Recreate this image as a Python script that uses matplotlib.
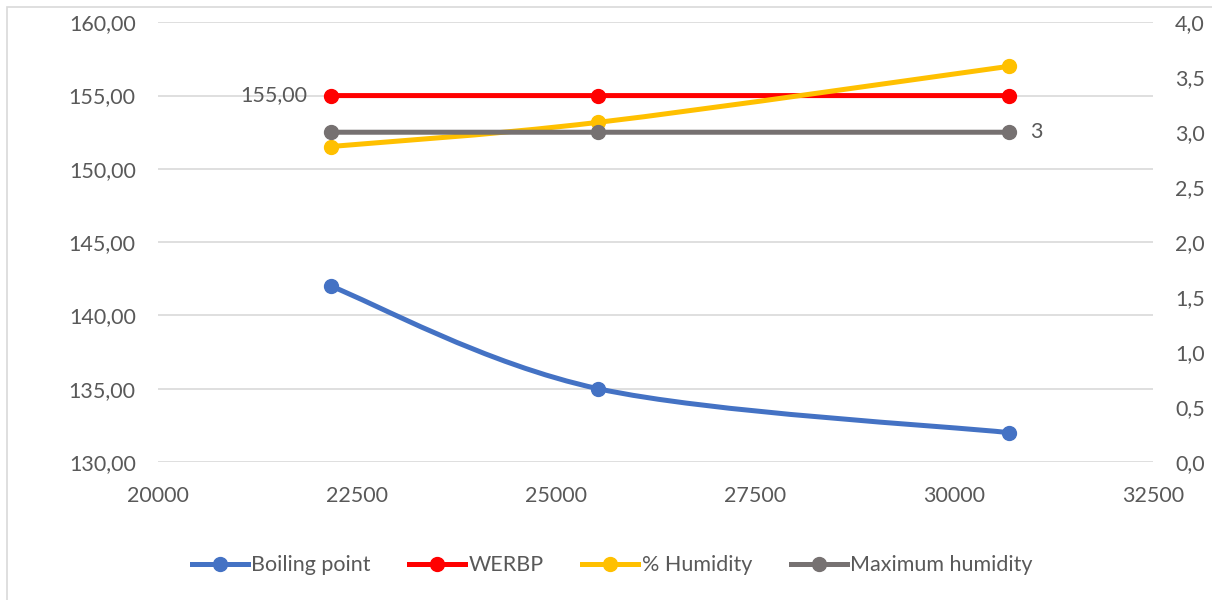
import matplotlib
matplotlib.use("Agg")
import matplotlib.pyplot as plt
from matplotlib.lines import Line2D
from matplotlib.patches import PathPatch, Rectangle
from matplotlib.path import Path

# series data
pressure = [22170, 25530, 30695]
boiling_point = [142.0, 135.0, 132.0]
werbp = [155.0, 155.0, 155.0]
humidity = [2.87, 3.09, 3.60]
max_humidity = [3.0, 3.0, 3.0]

left_ticks = [130, 135, 140, 145, 150, 155, 160]
right_ticks = [0.0, 0.5, 1.0, 1.5, 2.0, 2.5, 3.0, 3.5, 4.0]
x_ticks = [20000, 22500, 25000, 27500, 30000, 32500]

BLUE, RED, YELLOW, GREY = "#4472c4", "#ff0000", "#ffc000", "#767171"
TXT, GRID = "#595959", "#d9d9d9"
LW, MS = 3.6, 10
FS = 15.5

plt.rcParams["font.family"] = ["Lato", "DejaVu Sans"]


def smooth_path(xs, ys):
    """Catmull-Rom style cubic Bezier through the points (spreadsheet-like smoothing)."""
    pts = list(zip(xs, ys))
    verts, codes = [pts[0]], [Path.MOVETO]
    for i in range(len(pts) - 1):
        p0 = pts[i - 1] if i > 0 else pts[i]
        p1, p2 = pts[i], pts[i + 1]
        p3 = pts[i + 2] if i + 2 < len(pts) else pts[i + 1]
        c1 = (p1[0] + (p2[0] - p0[0]) / 6, p1[1] + (p2[1] - p0[1]) / 6)
        c2 = (p2[0] - (p3[0] - p1[0]) / 6, p2[1] - (p3[1] - p1[1]) / 6)
        verts += [c1, c2, p2]
        codes += [Path.CURVE4] * 3
    return Path(verts, codes)


def draw_series(ax, xs, ys, color, z):
    ax.add_patch(PathPatch(smooth_path(xs, ys), fill=False, edgecolor=color,
                           lw=LW, capstyle="round", joinstyle="round", zorder=z))
    ax.plot(xs, ys, "o", ms=MS, color=color, zorder=z + 0.5)


fig = plt.figure(figsize=(12.12, 6.0), dpi=100)
ax = fig.add_axes([158 / 1212, 1 - 462 / 600, (1153 - 158) / 1212, (462 - 22.3) / 600])
ax2 = ax.twinx()

ax.set_xlim(20000, 32500)
ax.set_ylim(130, 160)
ax2.set_ylim(0, 4)
ax.set_xticks(x_ticks)
ax.set_yticks(left_ticks)
ax2.set_yticks(right_ticks)
ax.set_yticklabels([f"{v:.2f}".replace(".", ",") for v in left_ticks])
ax2.set_yticklabels([f"{v:.1f}".replace(".", ",") for v in right_ticks])

for a in (ax, ax2):
    for s in a.spines.values():
        s.set_visible(False)
    a.tick_params(length=0, labelsize=FS, labelcolor=TXT)
ax.tick_params(axis="x", pad=17)
ax.tick_params(axis="y", pad=16)
ax2.tick_params(axis="y", pad=16)
ax.grid(axis="y", color=GRID, lw=1.2)
ax.set_axisbelow(True)

draw_series(ax, pressure, boiling_point, BLUE, 3)
draw_series(ax, pressure, werbp, RED, 3)
draw_series(ax2, pressure, humidity, YELLOW, 3)
draw_series(ax2, pressure, max_humidity, GREY, 4)

# data labels
ax.annotate(f"{werbp[0]:.2f}".replace(".", ","), (pressure[0], werbp[0]),
            xytext=(-17, 0), textcoords="offset points", ha="right", va="center",
            fontsize=FS, color=TXT)
ax2.annotate(f"{max_humidity[-1]:g}", (pressure[-1], max_humidity[-1]),
             xytext=(15, 0), textcoords="offset points", ha="left", va="center",
             fontsize=FS, color=TXT)

handles = [Line2D([], [], color=c, lw=LW, marker="o", ms=MS)
           for c in (BLUE, RED, YELLOW, GREY)]
labels = ["Boiling point", "WERBP", "% Humidity", "Maximum humidity"]
leg = fig.legend(handles, labels, loc="center", bbox_to_anchor=(0.505, 0.058),
                 ncol=4, frameon=False, fontsize=FS, handlelength=2.6,
                 handletextpad=0.15, columnspacing=1.8)
for t in leg.get_texts():
    t.set_color(TXT)

# chart area border
fig.patches.append(Rectangle((7 / 1212, -0.05), 1.1, 1 - 7 / 600 + 0.05, fill=False,
                             edgecolor=GRID, lw=1.2, transform=fig.transFigure))

fig.savefig("out.png", dpi=100)
